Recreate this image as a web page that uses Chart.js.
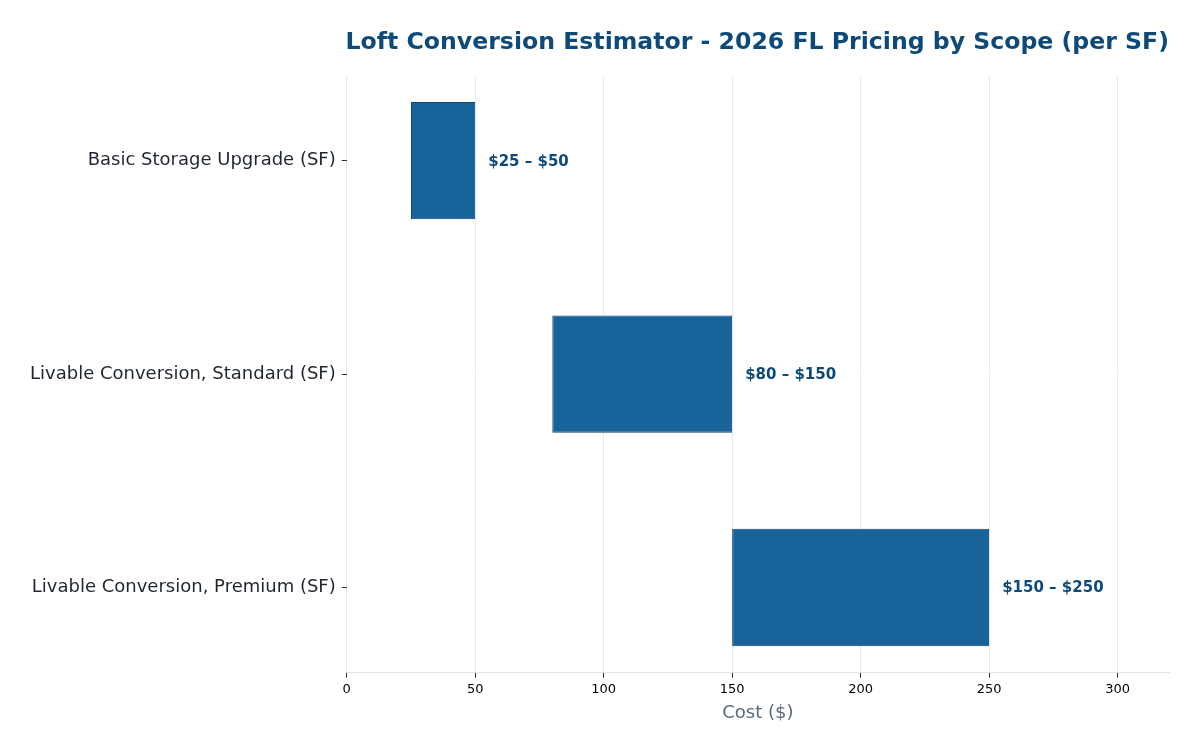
<!DOCTYPE html>
<html>
<head>
<meta charset="utf-8">
<script src="https://cdn.jsdelivr.net/npm/chart.js@4.4.1/dist/chart.umd.min.js"></script>
<style>
html,body{margin:0;padding:0;background:#fff;}
#wrap{width:1200px;height:750px;}
</style>
</head>
<body>
<div id="wrap"><canvas id="c" width="1200" height="750"></canvas></div>
<script>
const categories = ["Basic Storage Upgrade (SF)", "Livable Conversion, Standard (SF)", "Livable Conversion, Premium (SF)"];
const lowValues = [25, 80, 150];
const highValues = [50, 150, 250];
const rangeLabels = ["$25 \u2013 $50", "$80 \u2013 $150", "$150 \u2013 $250"];
const xTicks = [0, 50, 100, 150, 200, 250, 300];

const FONT = "'DejaVu Sans', sans-serif";

const barData = categories.map((c, i) => ({ y: i, x: [lowValues[i], highValues[i]] }));

const labelPlugin = {
  id: 'rangeLabels',
  afterDatasetsDraw(chart) {
    const ctx = chart.ctx;
    const meta = chart.getDatasetMeta(0);
    ctx.save();
    ctx.font = "bold 15px " + FONT;
    ctx.fillStyle = "#0d4a7a";
    ctx.textAlign = "left";
    ctx.textBaseline = "middle";
    meta.data.forEach((el, i) => {
      const xEnd = Math.max(el.x, el.base);
      ctx.fillText(rangeLabels[i], xEnd + 13, el.y + 1);
    });
    ctx.restore();
  }
};

new Chart(document.getElementById('c'), {
  type: 'bar',
  data: {
    datasets: [{
      data: barData,
      backgroundColor: '#186399',
      borderColor: '#0b4575',
      borderWidth: 1,
      borderSkipped: false,
      barPercentage: 0.55,
      categoryPercentage: 1.0
    }]
  },
  plugins: [labelPlugin],
  options: {
    indexAxis: 'y',
    responsive: false,
    animation: false,
    layout: { padding: { left: 24, right: 31, top: 29, bottom: 22 } },
    plugins: {
      legend: { display: false },
      tooltip: { enabled: false },
      title: {
        display: true,
        text: 'Loft Conversion Estimator - 2026 FL Pricing by Scope (per SF)',
        align: 'end',
        color: '#0d4a7a',
        font: { family: FONT, size: 23.6, weight: 'bold' },
        padding: { top: 0, bottom: 18 }
      }
    },
    scales: {
      x: {
        type: 'linear',
        min: 0,
        max: 320,
        afterBuildTicks: (scale) => { scale.ticks = xTicks.map(v => ({ value: v })); },
        ticks: { color: '#000', font: { family: FONT, size: 13 }, padding: 4, maxRotation: 0 },
        grid: { color: '#e3ecf4', tickColor: '#333', tickLength: 5, lineWidth: 1 },
        border: { color: '#dbe6ef', width: 1 },
        title: { display: true, text: 'Cost ($)', color: '#5a6b7e', font: { family: FONT, size: 18 }, padding: { top: 1 } }
      },
      y: {
        type: 'linear',
        reverse: true,
        offset: false,
        min: -0.4,
        max: 2.4,
        afterBuildTicks: (scale) => { scale.ticks = categories.map((c, i) => ({ value: i })); },
        ticks: {
          color: '#1f2630',
          font: { family: FONT, size: 18 },
          padding: 6,
          callback: (v) => categories[v]
        },
        grid: { offset: false, drawOnChartArea: false, drawTicks: true, tickLength: 5, tickColor: '#333' },
        border: { display: false }
      }
    }
  }
});
</script>
</body>
</html>
